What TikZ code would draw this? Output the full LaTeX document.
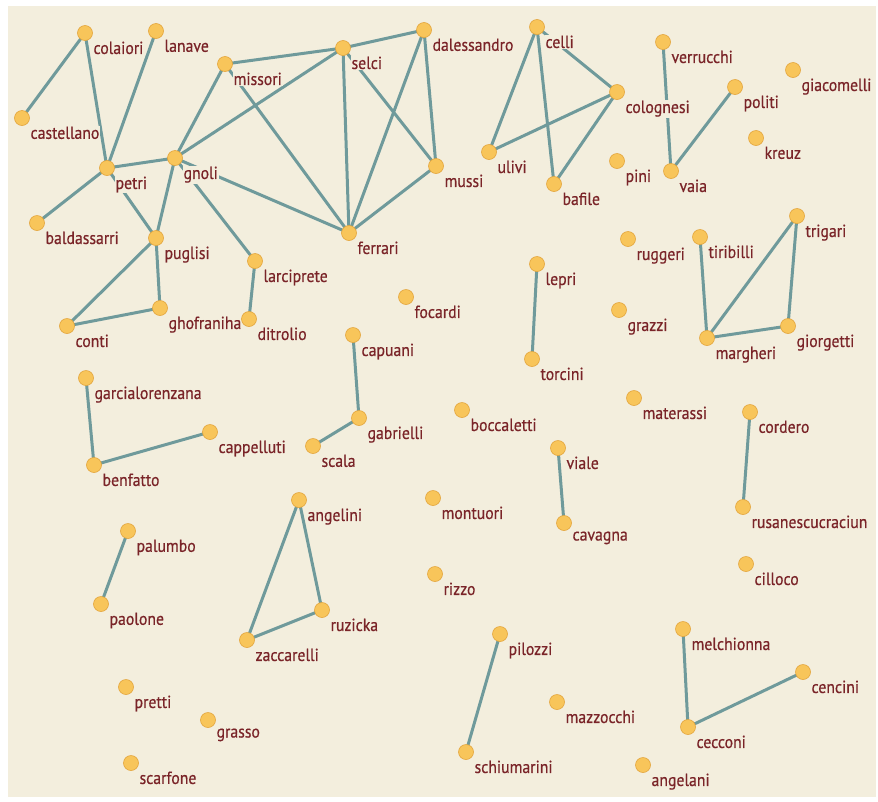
\documentclass[tikz,border=0pt]{standalone}
\usepackage{fontspec}
\setmainfont{PT Sans}[FakeStretch=0.9, FakeBold=0.5]
\definecolor{paper}{HTML}{F3EEDD}
\definecolor{dotfill}{HTML}{F8C55A}
\definecolor{dotedge}{HTML}{E3A53C}
\definecolor{linkcol}{HTML}{6F9A9B}
\definecolor{tagcol}{HTML}{7A2428}
\pgfdeclarelayer{back}
\pgfsetlayers{back,main}
\tikzset{
  member/.style={circle, fill=dotfill, draw=dotedge, line width=0.6pt,
    minimum size=15pt, inner sep=0pt},
  tag/.style={text=tagcol, fill=paper, inner sep=1pt, xshift=1.5pt,
    yshift=-1.5pt, font=\fontsize{17.5}{20}\selectfont},
  link/.style={draw=linkcol, line width=3pt},
}
\begin{document}
\begin{tikzpicture}[x=1pt, y=-1pt, label distance=0.5pt]
  \useasboundingbox (0,0) rectangle (878,801);

  % people
  \foreach \n/\x/\y in {colaiori/85/33, lanave/156/31, castellano/22/118,
      petri/107/168, gnoli/175/158, missori/225/64, baldassarri/37/223,
      puglisi/156/238, selci/343/48, dalessandro/424/30, mussi/436/166,
      ferrari/349/233, celli/537/27, ulivi/489/152, bafile/554/184,
      colognesi/617/92, verrucchi/663/42, politi/735/87, giacomelli/793/70,
      kreuz/756/138, pini/617/161, vaia/671/171, larciprete/255/261,
      ghofraniha/160/308, conti/67/326, ditrolio/249/319, focardi/406/297,
      lepri/537/264, torcini/532/359, ruggeri/628/239, tiribilli/700/237,
      trigari/797/216, grazzi/619/310, margheri/707/338, giorgetti/788/326,
      capuani/353/335, gabrielli/359/418, scala/313/446, boccaletti/462/410,
      garcialorenzana/86/378, cappelluti/210/432, benfatto/94/465,
      materassi/634/398, cordero/750/412, viale/558/448, cavagna/564/523,
      rusanescucraciun/743/507, cilloco/746/564, angelini/299/500,
      montuori/433/498, palumbo/128/531, paolone/101/604, ruzicka/322/610,
      zaccarelli/247/640, rizzo/435/574, pilozzi/500/634,
      melchionna/683/629, cencini/803/672, pretti/126/687, grasso/208/720,
      mazzocchi/557/702, cecconi/688/727, schiumarini/466/752,
      scarfone/131/763, angelani/643/765}
    \node[member, label={[tag]below right:\n}] (\n) at (\x,\y) {};

  \begin{pgfonlayer}{back}
    \fill[paper] (8,6) rectangle (876,797);
    % acquaintances
    \foreach \a/\b in {colaiori/castellano, colaiori/petri, lanave/petri,
        petri/baldassarri, petri/gnoli, petri/puglisi, gnoli/missori,
        gnoli/selci, gnoli/puglisi, gnoli/larciprete, gnoli/ferrari,
        missori/selci, missori/ferrari, selci/dalessandro, selci/ferrari,
        selci/mussi, dalessandro/ferrari, dalessandro/mussi, mussi/ferrari,
        puglisi/conti, puglisi/ghofraniha, conti/ghofraniha,
        larciprete/ditrolio, celli/ulivi, celli/bafile, celli/colognesi,
        ulivi/colognesi, bafile/colognesi, verrucchi/vaia, politi/vaia,
        tiribilli/margheri, trigari/margheri, trigari/giorgetti,
        margheri/giorgetti, lepri/torcini, capuani/gabrielli,
        gabrielli/scala, garcialorenzana/benfatto, benfatto/cappelluti,
        viale/cavagna, cordero/rusanescucraciun, palumbo/paolone,
        angelini/ruzicka, angelini/zaccarelli, zaccarelli/ruzicka,
        pilozzi/schiumarini, melchionna/cecconi, cecconi/cencini}
      \draw[link] (\a.center) -- (\b.center);
  \end{pgfonlayer}
\end{tikzpicture}
\end{document}
